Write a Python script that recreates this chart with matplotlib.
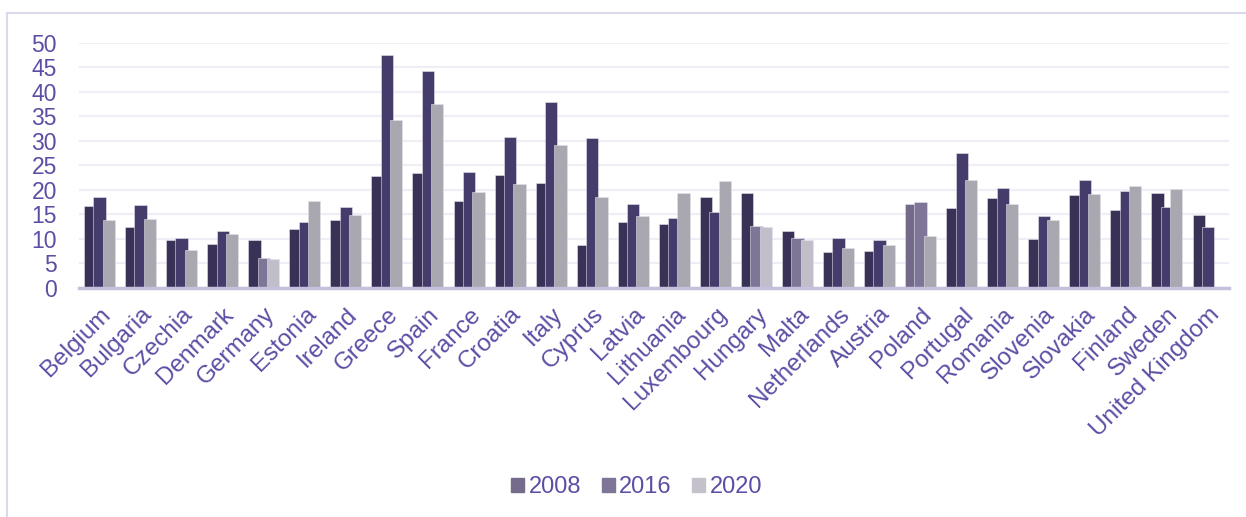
import numpy as np
import matplotlib
matplotlib.use("Agg")
import matplotlib.pyplot as plt
from matplotlib.lines import Line2D

countries = ["Belgium", "Bulgaria", "Czechia", "Denmark", "Germany", "Estonia", "Ireland",
             "Greece", "Spain", "France", "Croatia", "Italy", "Cyprus", "Latvia", "Lithuania",
             "Luxembourg", "Hungary", "Malta", "Netherlands", "Austria", "Poland", "Portugal",
             "Romania", "Slovenia", "Slovakia", "Finland", "Sweden", "United Kingdom"]
v2008 = [16.8, 12.5, 9.7, 8.9, 9.7, 12.0, 13.8, 22.9, 23.5, 17.7, 23.0, 21.4, 8.8, 13.4,
         13.1, 18.5, 19.4, 11.6, 7.4, 7.5, 17.2, 16.3, 18.4, 9.9, 18.9, 15.9, 19.3, 14.8]
v2016 = [18.5, 17.0, 10.2, 11.6, 6.1, 13.4, 16.5, 47.5, 44.2, 23.6, 30.8, 37.9, 30.6, 17.1,
         14.2, 15.5, 12.7, 10.2, 10.1, 9.8, 17.6, 27.5, 20.4, 14.7, 22.1, 19.7, 16.5, 12.5]
v2020 = [13.9, 14.0, 7.8, 11.0, 6.0, 17.8, 14.9, 34.2, 37.6, 19.5, 21.3, 29.1, 18.5, 14.6,
         19.4, 21.9, 12.5, 9.8, 8.2, 8.8, 10.6, 22.1, 17.1, 13.9, 19.1, 20.9, 20.1, np.nan]
years = ["2008", "2016", "2020"]

txt = "#5a4fa4"
base_cols = ["#3a3157", "#463c6b", "#a9a7b0"]
light_cols = ["#736a8a", "#7e7597", "#c1bec9"]
# bars drawn in a lighter shade in the original
light = {("Germany", 1), ("Germany", 2), ("Hungary", 1), ("Hungary", 2),
         ("Malta", 1), ("Malta", 2), ("Poland", 0), ("Poland", 1)}

plt.rcParams["font.family"] = ["Liberation Sans", "DejaVu Sans"]

fig = plt.figure(figsize=(12.46, 5.17), dpi=100)
ax = fig.add_axes([0.0634, 0.443, 0.9226, 0.474])

x = np.arange(len(countries))
w = 0.30
off = 0.227
for i, vals in enumerate([v2008, v2016, v2020]):
    cols = [light_cols[i] if (c, i) in light else base_cols[i] for c in countries]
    ax.bar(x + (i - 1) * off, vals, width=w, color=cols, edgecolor="#e4e2ea",
           linewidth=0.4, zorder=2 + i)

ax.set_xlim(-0.5, len(countries) - 0.5)
ax.set_ylim(0, 50)
ax.set_yticks(range(0, 51, 5))
ax.yaxis.grid(True, color="#efedf5", linewidth=1.6, zorder=0)
ax.set_axisbelow(True)
for s in ["top", "right", "left"]:
    ax.spines[s].set_visible(False)
ax.spines["bottom"].set_color("#c5c0de")
ax.spines["bottom"].set_linewidth(2.5)
ax.spines["bottom"].set_zorder(10)

ax.set_xticks(x)
ax.set_xticklabels(countries, rotation=45, ha="right", rotation_mode="anchor")
ax.tick_params(axis="x", length=0, pad=11, labelsize=17.5, labelcolor=txt)
ax.tick_params(axis="y", length=0, pad=16, labelsize=16.5, labelcolor=txt)

handles = [plt.Rectangle((0, 0), 1, 1, color=c) for c in ["#756c8c", "#7e7597", "#c4c1ca"]]
fig.legend(handles, years, loc="center", bbox_to_anchor=(0.511, 0.058), ncol=3,
           frameon=False, fontsize=17, labelcolor=txt, handlelength=0.55,
           handleheight=0.55, handletextpad=0.2, columnspacing=0.85)

# outer frame (top and left edges visible)
fig.add_artist(Line2D([7 / 1246, 1.0], [1 - 13 / 517, 1 - 13 / 517],
                      color="#dcd9ec", linewidth=1.5, transform=fig.transFigure))
fig.add_artist(Line2D([7 / 1246, 7 / 1246], [0.0, 1 - 13 / 517],
                      color="#dcd9ec", linewidth=1.5, transform=fig.transFigure))

fig.savefig("out.png", dpi=100)
